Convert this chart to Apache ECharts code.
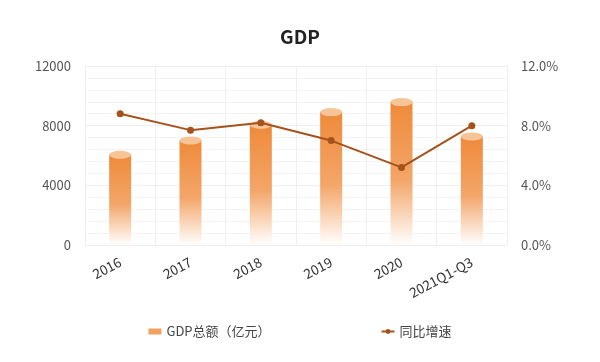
<!DOCTYPE html>
<html><head><meta charset="utf-8">
<script src="https://cdn.jsdelivr.net/npm/echarts@6/dist/echarts.min.js"></script>
<style>html,body{margin:0;padding:0;background:#fff}#c{width:600px;height:362px}</style>
</head><body><div id="c"></div>
<script>
const categories = ['2016','2017','2018','2019','2020','2021Q1-Q3'];
const gdpValues = [6080, 7040, 8090, 8940, 9610, 7310];
const growthValues = [8.8, 7.7, 8.2, 7.0, 5.2, 8.0];
const leftTicks = [0, 4000, 8000, 12000];
const rightTicks = [0, 4, 8, 12];

const chart = echarts.init(document.getElementById('c'));
const font = 'Noto Sans CJK SC, sans-serif';
chart.setOption({
  backgroundColor: '#fff',
  textStyle: {fontFamily: font},
  title: {text: 'GDP', left: 'center', top: 22, textStyle: {fontSize: 19, fontWeight: 'bold', color: '#222', fontFamily: font}},
  grid: {left: 85, right: 93, top: 66, bottom: 117},
  legend: {
    bottom: 19, left: 'center', itemGap: 110, itemWidth: 13, itemHeight: 6,
    textStyle: {fontSize: 13, color: '#444', fontFamily: font},
    data: [
      {name: 'GDP总额（亿元）', icon: 'rect', itemStyle: {color: '#f0a060'}},
      {name: '同比增速'}
    ]
  },
  xAxis: {
    type: 'category', data: categories,
    axisLine: {show: false}, axisTick: {show: false},
    splitLine: {show: true, lineStyle: {color: '#eeeeee'}},
    axisLabel: {rotate: 28, fontSize: 13.5, color: '#333', margin: 16, interval: 0}
  },
  yAxis: [
    {type: 'value', min: leftTicks[0], max: leftTicks[3], interval: 4000,
     axisLine: {show: false}, axisTick: {show: false},
     axisLabel: {fontSize: 13, color: '#555', margin: 14, formatter: v => String(v)},
     splitLine: {lineStyle: {color: '#eeeeee'}},
     minorTick: {show: false, splitNumber: 5},
     minorSplitLine: {show: true, lineStyle: {color: '#f3f3f3'}}},
    {type: 'value', min: rightTicks[0], max: rightTicks[3], interval: 4,
     axisLine: {show: false}, axisTick: {show: false}, splitLine: {show: false},
     axisLabel: {fontSize: 13, color: '#555', margin: 14, formatter: v => v.toFixed(1) + '%'}}
  ],
  series: [
    {name: 'GDP总额（亿元）', type: 'bar', data: gdpValues, barWidth: 22, z: 2,
     itemStyle: {color: new echarts.graphic.LinearGradient(0,0,0,1,[
       {offset: 0, color: '#ee8a3a'}, {offset: 0.55, color: '#f3a669'}, {offset: 1, color: 'rgba(255,255,255,1)'}])}},
    {name: 'GDP总额（亿元）', type: 'pictorialBar', data: gdpValues, symbol: 'circle',
     symbolSize: [22, 8], symbolPosition: 'end', symbolOffset: [0, '-50%'], z: 3,
     itemStyle: {color: '#f6c497', borderColor: '#fff', borderWidth: 1.5}, tooltip: {show: false}},
    {name: '同比增速', type: 'line', yAxisIndex: 1, data: growthValues, z: 5,
     symbol: 'circle', symbolSize: 7,
     lineStyle: {color: '#a5521c', width: 2}, itemStyle: {color: '#a5521c'}}
  ]
});
</script></body></html>
